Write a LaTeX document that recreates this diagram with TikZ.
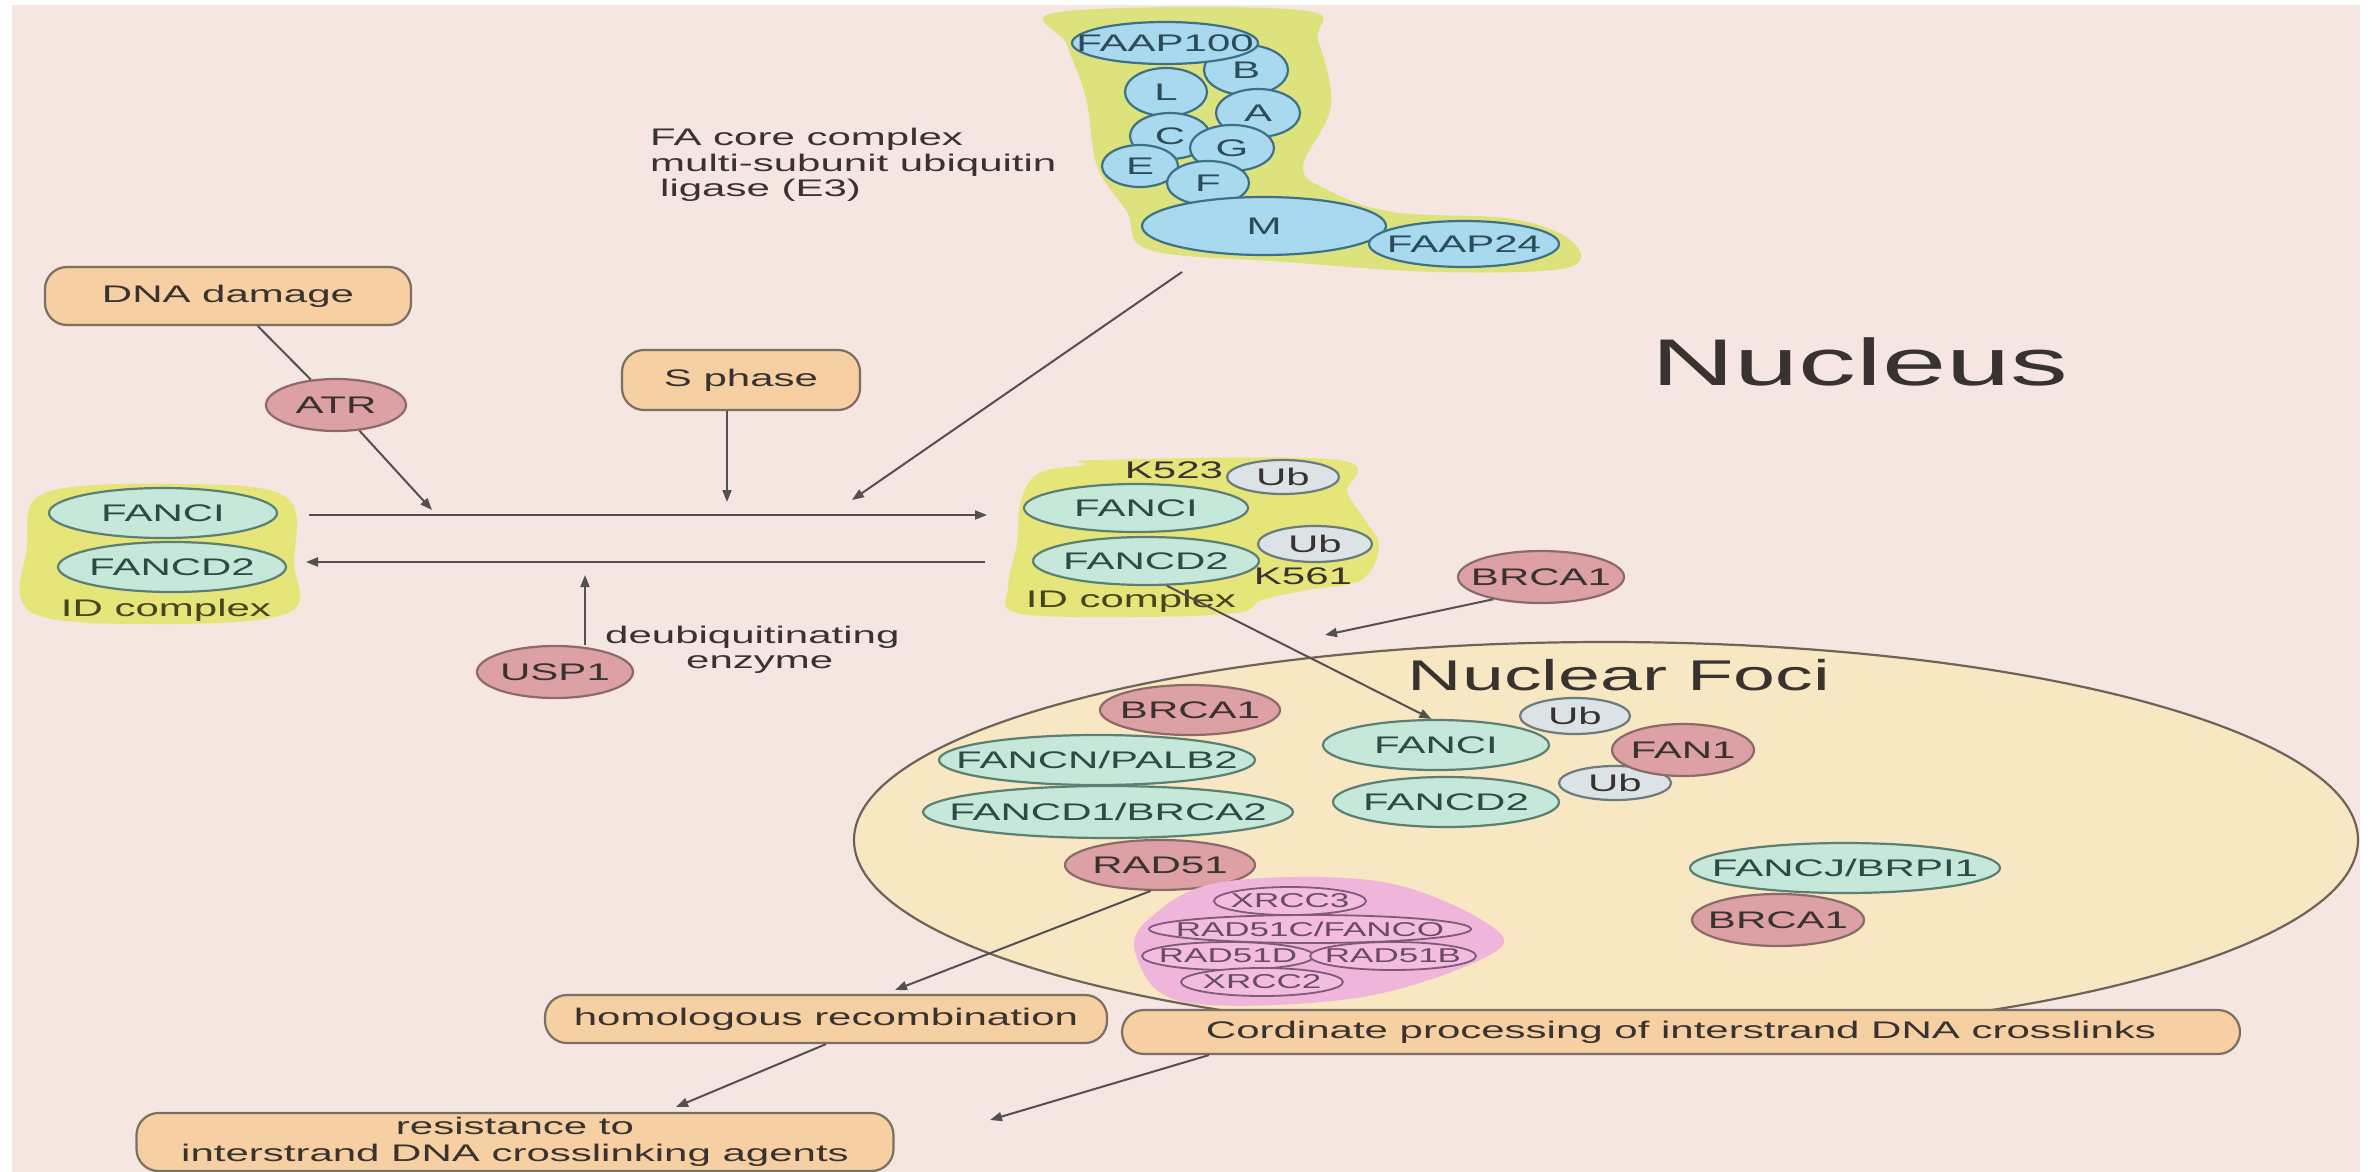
\documentclass[tikz,border=0pt]{standalone}
\usepackage{fontspec}
\setmainfont{Liberation Sans}[FakeStretch=1.75]
\usetikzlibrary{shapes.geometric,arrows.meta}
\definecolor{bg}{HTML}{F5E6E2}
\definecolor{boxF}{HTML}{F6CFA2}
\definecolor{boxD}{HTML}{7B6F63}
\definecolor{roseF}{HTML}{DDA0A5}
\definecolor{roseD}{HTML}{8C6A6A}
\definecolor{tealF}{HTML}{C5E8DA}
\definecolor{tealD}{HTML}{5B7F72}
\definecolor{tealT}{HTML}{2F4A44}
\definecolor{ubF}{HTML}{DCE3E6}
\definecolor{ubD}{HTML}{6B7B7E}
\definecolor{fablue}{HTML}{A9D9EE}
\definecolor{fablueD}{HTML}{3F7186}
\definecolor{fatext}{HTML}{2C4C5A}
\definecolor{yblob}{HTML}{DDE37C}
\definecolor{yblobB}{HTML}{E6E57A}
\definecolor{fociF}{HTML}{F8E7C3}
\definecolor{fociD}{HTML}{6F6258}
\definecolor{xrBlob}{HTML}{F0B5DA}
\definecolor{xrF}{HTML}{F3BEDD}
\definecolor{xrD}{HTML}{7E5A7E}
\definecolor{xrT}{HTML}{6A4A6A}
\definecolor{txt}{HTML}{383330}
\definecolor{lineC}{HTML}{555050}
\definecolor{olive}{HTML}{45451E}
\newcommand{\mb}[1]{\makebox[0pt]{#1}}
\begin{document}
\begin{tikzpicture}[x=1pt,y=-1pt]
\tikzset{
 lbl/.style={font=\fontsize{24}{26}\selectfont, text=txt},
 ell/.style={ellipse, draw, line width=2.2pt, inner sep=0pt, lbl},
 sz/.style 2 args={minimum width=#1pt, minimum height=#2pt},
 fab/.style={ell, fill=fablue, draw=fablueD, text=fatext},
 teal/.style={ell, fill=tealF, draw=tealD, text=tealT},
 rose/.style={ell, fill=roseF, draw=roseD},
 ubs/.style={ell, fill=ubF, draw=ubD, text=txt},
 pbox/.style={rectangle, rounded corners=22pt, draw=boxD, fill=boxF, line width=2.2pt, lbl, inner sep=0pt},
 xr/.style={ell, fill=xrF, draw=xrD, text=xrT, font=\fontsize{20}{22}\selectfont, line width=1.8pt},
 arr/.style={draw=lineC, line width=2pt, -{Triangle[length=12pt,width=9pt]}},
 ln/.style={draw=lineC, line width=2pt},
 plain/.style={lbl, inner sep=0pt},
}
\useasboundingbox (0,0) rectangle (2372,1172);
\fill[white] (0,0) rectangle (2372,1172);
\fill[bg] (12,5) rectangle (2360,1172);

% ---------- FA core complex ----------
\fill[yblob] plot[smooth cycle, tension=0.6] coordinates {(1059,12) (1300,10) (1318,40) (1331,106) (1303,166) (1326,189) (1392,212) (1513,219) (1573,242) (1566,268) (1437,272) (1286,262) (1150,250) (1127,212) (1097,166) (1086,98) (1067,45)};
\node[fab, sz={84}{50}] (fB) at (1246,70) {\mb{B}};
\node[fab, sz={186}{42}] (faap100) at (1165,43) {\mb{FAAP100}};
\node[fab, sz={82}{48}] (fL) at (1166,92) {\mb{L}};
\node[fab, sz={84}{48}] (fA) at (1258,113) {\mb{A}};
\node[fab, sz={80}{46}] (fC) at (1170,136) {\mb{C}};
\node[fab, sz={84}{46}] (fG) at (1232,148) {\mb{G}};
\node[fab, sz={76}{42}] (fE) at (1140,166) {\mb{E}};
\node[fab, sz={82}{44}] (fF) at (1208,183) {\mb{F}};
\node[fab, sz={244}{58}] (fM) at (1264,226) {\mb{M}};
\node[fab, sz={190}{46}] (faap24) at (1464,244) {\mb{FAAP24}};

\node[plain, anchor=base west] (fat1) at (650,145) {FA core complex};
\node[plain, anchor=base west] (fat2) at (650,171) {multi-subunit ubiquitin};
\node[plain, anchor=base west] (fat3) at (660,196) {ligase (E3)};

\node[font=\fontsize{66}{70}\selectfont, text=txt, inner sep=0pt] (nucleus) at (1860,362) {Nucleus};

% ---------- upstream ----------
\node[pbox, minimum width=366pt, minimum height=58pt] (dna) at (228,296) {DNA damage};
\node[rose, sz={140}{52}] (atr) at (336,405) {\mb{ATR}};
\node[pbox, minimum width=238pt, minimum height=60pt] (sphase) at (741,380) {S phase};

\coordinate (atrtip) at (432,510);
\coordinate (stip) at (727,502);
\coordinate (fatip) at (852,500);
\coordinate (fastart) at (1182,272);
\draw[ln] (dna) -- (atr);
\draw[arr] (atr) -- (atrtip);
\draw[arr] (sphase.south -| stip) -- (stip);
\draw[arr] (fastart) -- (fatip);

% ---------- left ID complex ----------
\fill[yblobB] plot[smooth cycle, tension=0.6] coordinates {(45,493) (179,484) (286,497) (294,563) (288,613) (156,624) (31,612) (27,547)};
\node[teal, sz={228}{50}] (fanci1) at (163,513) {\mb{FANCI}};
\node[teal, sz={228}{50}] (fancd21) at (172,567) {\mb{FANCD2}};
\node[plain, text=olive] (idl1) at (166,610) {ID complex};

\coordinate (h1s) at (309,515);
\coordinate (h1e) at (987,515);
\coordinate (h2s) at (985,562);
\coordinate (h2e) at (306,562);
\draw[arr] (h1s) -- (h1e);
\draw[arr] (h2s) -- (h2e);

\node[rose, sz={156}{52}] (usp1) at (555,672) {\mb{USP1}};
\coordinate (usptip) at (585,575);
\draw[arr] (usp1.north -| usptip) -- (usptip);
\node[plain, anchor=base west] (deub1) at (605,643) {deubiquitinating};
\node[plain, anchor=base west] (deub2) at (686,668) {enzyme};

% ---------- right ID complex ----------
\fill[yblobB] plot[smooth cycle, tension=0.6] coordinates {(1097,460) (1338,460) (1347,493) (1365,520) (1379,547) (1361,580) (1307,590) (1262,600) (1236,613) (1129,617) (1017,613) (1008,587) (1017,543) (1021,500) (1039,473) (1084,465)};
\node[teal, sz={224}{48}] (fanci2) at (1136,508) {\mb{FANCI}};
\node[ubs, sz={112}{34}] (ub1) at (1283,477) {\mb{Ub}};
\node[plain] (k523) at (1174,470) {K523};
\node[teal, sz={226}{48}] (fancd22) at (1146,561) {\mb{FANCD2}};
\node[ubs, sz={114}{36}] (ub2) at (1315,544) {\mb{Ub}};
\node[plain] (k561) at (1303,576) {K561};
\node[plain, text=olive] (idl2) at (1131,601) {ID complex};

\node[rose, sz={166}{52}] (brcar) at (1541,577) {\mb{BRCA1}};

% ---------- nuclear foci ----------
\node[ellipse, draw=fociD, fill=fociF, line width=2.2pt, minimum width=1504pt, minimum height=396pt] (foci) at (1606,840) {};
\node[font=\fontsize{43}{46}\selectfont, text=txt, inner sep=0pt] (focit) at (1619,675) {Nuclear Foci};

\coordinate (brtip) at (1325,635);
\draw[arr] (brcar.205) -- (brtip);

\node[rose, sz={180}{50}] (brca1a) at (1190,710) {\mb{BRCA1}};
\node[teal, sz={316}{50}] (palb2) at (1097,760) {\mb{FANCN/PALB2}};
\node[teal, sz={370}{52}] (brca2) at (1108,812) {\mb{FANCD1/BRCA2}};
\node[rose, sz={190}{50}] (rad51) at (1160,865) {\mb{RAD51}};

\fill[xrBlob] plot[smooth cycle, tension=0.6] coordinates {(1222,882) (1383,882) (1494,928) (1484,958) (1356,998) (1184,1002) (1136,955) (1150,918)};
\node[xr, sz={152}{28}] (xrcc3) at (1290,901) {\mb{XRCC3}};
\node[xr, sz={322}{28}] (rad51c) at (1310,929) {\mb{RAD51C/FANCO}};
\node[xr, sz={172}{28}] (rad51d) at (1228,956) {\mb{RAD51D}};
\node[xr, sz={166}{28}] (rad51b) at (1393,956) {\mb{RAD51B}};
\node[xr, sz={162}{28}] (xrcc2) at (1262,982) {\mb{XRCC2}};

\node[teal, sz={226}{50}] (fanci3) at (1436,745) {\mb{FANCI}};
\node[ubs, sz={110}{36}] (ub3) at (1575,716) {\mb{Ub}};
\node[teal, sz={226}{50}] (fancd23) at (1446,802) {\mb{FANCD2}};
\node[ubs, sz={112}{34}] (ub4) at (1615,783) {\mb{Ub}};
\node[rose, sz={142}{52}] (fan1) at (1683,750) {\mb{FAN1}};
\node[teal, sz={310}{50}] (fancj) at (1845,868) {\mb{FANCJ/BRPI1}};
\node[rose, sz={172}{52}] (brca1b) at (1778,920) {\mb{BRCA1}};

\draw[arr] (fancd22.-50) -- (fanci3.100);

% ---------- outcomes ----------
\node[pbox, minimum width=562pt, minimum height=48pt] (hr) at (826,1019) {homologous recombination};
\node[pbox, minimum width=1118pt, minimum height=44pt] (cp) at (1681,1032) {Cordinate processing of interstrand DNA crosslinks};
\node[pbox, minimum width=757pt, minimum height=58pt, align=center, font=\fontsize{24}{27}\selectfont] (res) at (515,1142) {resistance to\\interstrand DNA crosslinking agents};

\coordinate (hrtip) at (895,990);
\coordinate (res1tip) at (676,1107);
\coordinate (res2tip) at (990,1120);
\draw[arr] (rad51.-110) -- (hrtip);
\draw[arr] (hr.south) -- (res1tip);
\draw[arr] ([xshift=88pt]cp.south west) -- (res2tip);
\end{tikzpicture}
\end{document}
